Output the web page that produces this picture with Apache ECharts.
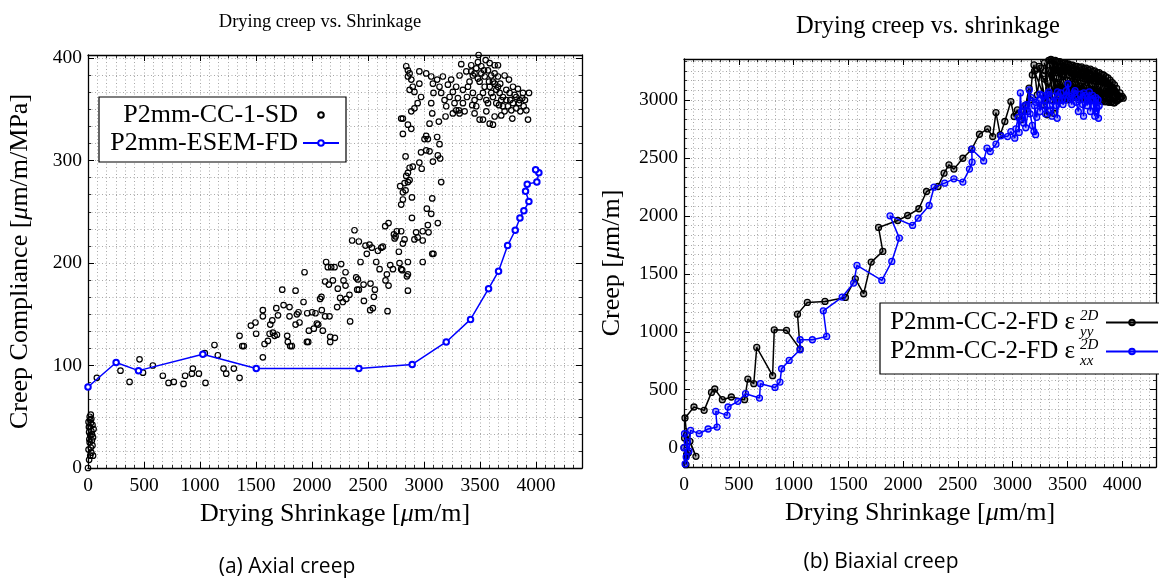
<!DOCTYPE html>
<html><head><meta charset="utf-8">
<script src="https://cdn.jsdelivr.net/npm/echarts@6/dist/echarts.min.js"></script>
<style>html,body{margin:0;padding:0;background:#fff}#c{width:1159px;height:579px}</style>
</head><body><div id="c"></div><script>
// ---------- data (left panel: axial creep) ----------
const sdPoints = [
[0,0],[10,8],[20,12],[30,15],[5,18],[25,20],[40,22],[15,25],[35,27],[45,30],[20,32],[10,35],[30,36],[50,38],[15,40],[40,42],[25,44],[5,45],[20,47],[30,48],[15,50],[25,52],[45,12],[8,40],[35,33],[12,28],
[79,88],[290,95],[371,84],[460,106],[491,93],[579,100],[668,90],[719,83],[766,84],[853,82],[867,90],[927,92],[936,97],[990,92],[1043,112],[1049,83],[1129,120],[1159,110],[1210,97],[1234,92],[1302,97],[1353,88],
[1353,129],[1377,119],[1391,119],[1454,139],[1495,142],[1501,131],[1561,154],[1561,148],[1561,108],[1576,121],[1606,124],[1621,131],[1627,140],[1645,144],[1651,132],[1666,129],[1687,130],[1696,149],[1681,156],[1734,174],[1746,159],[1778,129],[1784,123],[1799,157],[1799,148],[1805,119],[1820,119],[1853,173],[1853,140],[1865,150],[1879,152],[1888,142],[1924,162],[1933,191],[1954,123],[1966,123],[1972,134],[1957,151],[2001,152],[2016,136],[2031,151],[2043,141],[2055,140],[2072,165],[2084,167],[2087,154],[2096,134],[2117,182],[2117,148],[2126,201],[2141,196],[2150,179],[2156,148],[2162,128],[2162,123],[2171,196],[2186,183],[2204,127],[2201,196],[2230,175],[2224,157],[2260,199],[2251,166],[2275,162],[2281,183],[2299,191],[2299,178],[2305,165],[2334,169],[2340,143],[2358,222],[2379,232],[2394,186],[2403,174],[2409,184],[2418,221],[2418,174],[2433,201],[2460,179],[2463,163],[2477,217],[2489,209],[2513,218],[2522,180],[2519,154],[2534,215],[2543,156],[2552,167],[2561,174],[2573,201],[2588,212],[2603,194],[2618,215],[2632,216],[2653,236],[2656,183],[2668,189],[2674,153],[2683,239],[2683,178],[2698,198],[2722,194],[2731,228],[2737,224],[2746,226],[2757,231],[2775,211],[2781,200],[2787,275],[2796,231],[2796,194],[2805,193],[2811,219],[2826,223],[2811,262],[2796,257],[2811,269],[2835,271],[2826,278],[2841,285],[2856,288],[2856,279],[2871,281],[2871,293],[2835,304],[2811,326],[2796,341],[2811,341],[2856,335],[2886,331],[2856,189],[2856,201],[2847,187],[2856,173],[2892,264],[2892,244],[2899,294],[2914,223],[2929,230],[2943,225],[2958,298],[2973,308],[2979,292],[2988,231],[2988,222],[2988,201],[3004,321],[3019,310],[3019,324],[3025,253],[3034,237],[3034,321],[3040,230],[3049,309],[3049,336],[3064,248],[3073,209],[3073,263],[3079,299],[3084,209],[3117,323],[3123,239],[3123,305],[3138,316],[3132,338],[3153,279],[3144,302],
[2841,392],[2856,388],[2871,385],[2856,382],[2886,379],[2899,372],[2871,369],[2914,367],[2958,387],[2958,375],[2973,362],[2943,356],[2914,351],[2886,348],[3019,385],[3064,382],[3079,375],[3084,366],[3064,356],[3073,346],[3117,379],[3138,372],[3153,366],[3168,382],[3183,359],[3198,353],[3192,343],[3213,374],[3228,362],[3242,379],[3257,367],[3272,356],[3287,372],[3302,361],[3311,349],[3317,383],[3332,394],[3347,369],[3362,348],[3377,387],[3383,362],[3406,377],[3421,393],[3430,354],[3436,383],[3451,346],[3466,390],[3481,396],[3487,403],[3496,377],[3511,385],[3526,366],[3535,388],[3541,372],[3550,398],[3556,348],[3571,356],[3580,377],[3586,336],[3600,383],[3615,362],[3630,343],[3630,393],[3645,369],[3660,382],[3669,354],[3680,375],[3689,344],[3704,362],[3719,383],[3734,369],[3749,353],[3758,379],[3770,359],[3788,341],[3794,372],[3809,364],[3823,351],[3838,370],[3847,356],[3859,348],[3877,361],[3889,353],[3901,359],[3913,349],[3928,340],[3937,366],
[3421,387],[3451,385],[3481,380],[3511,392],[3541,382],[3571,388],[3586,372],[3615,377],[3645,356],[3675,366],[3704,353],[3734,359],[3764,366],[3794,356],[3823,362],[3853,359],[3883,366],[3779,349],[3719,348],[3689,359],[3660,372],[3630,375],[3600,366],[3556,359],[3496,362],[3466,353],[3436,366],[3392,372],[3347,356],[3317,346],[3287,349],[3257,346],[3526,340],[3615,335],[3496,340],[3451,359],[3586,395],[3630,385],[3660,393]
];
const esemPoints = [[0,79],[251,103],[451,95],[1025,111],[1502,97],[2418,97],[2894,101],[3198,123],[3415,145],[3576,175],[3665,192],[3746,217],[3814,232],[3856,244],[3891,251],[3936,260],[3906,270],[3921,277],[4007,279],[4025,288],[3996,291]];

// ---------- data (right panel: biaxial creep) ----------
const yyPoints = [[0,0],[24,-60],[18,-147],[39,-46],[5,83],[54,55],[109,-75],[24,112],[9,256],[91,351],[184,322],[251,477],[281,506],[350,414],[432,437],[553,414],[583,592],[637,552],[664,865],[809,621],[824,1017],[936,1012],[1060,851],[1036,1152],[1126,1253],[1287,1262],[1474,1296],[1564,1457],[1640,1328],[1709,1601],[1815,1693],[1776,1900],[1951,1960],[2042,2003],[2144,2061],[2214,2210],[2319,2253],[2374,2368],[2419,2440],[2464,2403],[2546,2497],[2627,2575],[2697,2704],[2772,2750],[2818,2684],[2848,2891],[2887,2699],[2929,2814],[2984,2986],
[3014,2857],[3044,2914],[3074,2828],[3100,2900],[3120,2957],[3150,3101],[3160,3000],[3180,3216],[3195,3302],[3225,3044],[3256,3274],[3286,2957],[3316,2871],[3300,3250],[3331,3360],[3376,2885],[3340,3300],[3420,2990],[3350,3350],[3460,3010],[3390,3340],[3500,3000],[3430,3330],[3540,3020],[3470,3320],[3580,3030],[3510,3310],[3620,3020],[3550,3300],[3660,3010],[3590,3290],[3700,3000],[3630,3285],[3740,3000],[3670,3275],[3780,2995],[3710,3265],[3820,2990],[3750,3250],[3860,2985],[3790,3235],[3900,2980],[3830,3215],[3930,2975],[3870,3190],[3960,3000],[3910,3150],[3990,3020],[3950,3100],[4010,3015],[3980,3060],[3940,3040],[3880,3080],[3840,3060],[3780,3120],[3730,3090],[3680,3150],[3620,3120],[3570,3180],[3520,3140],[3460,3200],[3410,3150],[3360,3220],[3330,3100],[3290,3180],[3380,3260],[3440,3240],[3500,3250],[3560,3230],[3620,3220],[3680,3200],[3740,3180],[3800,3160],[3860,3120],
[3200,3250],[3300,2990],[3240,3290],[3350,3000],[3290,3320],[3400,3000],[3330,3340],[3440,3000],[3370,3340],[3480,3010],[3410,3330],[3520,3010],[3450,3320],[3560,3020],[3490,3310],[3600,3020],[3530,3300],[3640,3010],[3570,3290],[3680,3005],[3610,3280],[3720,3000],[3650,3270],[3760,2995],[3690,3260],[3800,2990],[3730,3250],[3840,2985],[3770,3235],[3880,2980],[3810,3220],[3920,2975],[3850,3200],[3950,2990],[3890,3170],[3980,3010],[3930,3130],[4000,3030]];
const xxPoints = [[0,0],[20,-80],[10,-140],[30,50],[5,120],[45,-30],[60,149],[139,121],[220,161],[302,178],[290,313],[393,279],[402,351],[492,400],[562,466],[689,428],[698,552],[831,520],[876,566],[891,681],[960,753],[1060,845],[1060,931],[1172,931],[1302,960],[1272,1181],[1444,1299],[1549,1420],[1579,1572],[1806,1443],[1897,1607],[1966,1808],[1881,2000],[2087,1917],[2138,1980],[2238,2089],[2283,2247],[2380,2282],[2464,2319],[2546,2291],[2606,2403],[2630,2463],[2627,2575],[2736,2474],[2766,2584],[2796,2555],[2848,2618],[2893,2690],[2954,2684],[2984,2727],[3020,2670],[3030,2750],[3050,2850],[3060,2720],[3071,3060],[3080,2900],[3100,2800],[3110,2950],[3120,2760],[3140,2900],[3152,3086],[3160,2880],[3180,2780],[3195,2727],[3210,2700],[3200,2950],[3220,2850],[3240,3000],[3250,2900],[3270,3040],[3290,2950],[3300,2880],[3320,3050],[3340,2950],[3346,2914],[3360,2860],[3380,3030],[3400,2950],[3407,2842],[3420,2990],[3440,3060],[3460,2960],[3480,3000],[3505,3138],[3520,3030],[3540,2960],[3560,3060],[3580,2980],[3600,2900],[3620,3050],[3640,2960],[3648,2860],[3660,3040],[3680,2950],[3700,3070],[3710,2900],[3720,3000],[3740,2950],[3750,2860],[3760,3020],[3770,2930],[3784,2842],[3790,2950],[3780,3000],[3760,2900],[3730,3040],[3690,2990],[3650,3060],[3610,3000],[3570,3080],[3530,3010],[3490,3080],[3450,3000],[3410,3070],[3370,2990],[3330,3070],[3290,3000],[3250,3050],[3210,2980],[3170,3020],[3130,2960]];

// ---------- axis ranges / ticks ----------
const leftX = {min: 0, max: 4410, step: 500};
const leftY = {min: 0, max: 403, step: 100};
const rightX = {min: 0, max: 4309, step: 500};
const rightY = {min: -1000 / 6, max: 3353, step: 500};

const SERIF = 'Liberation Serif';
function isMult(v, s) { const r = v / s; return Math.abs(r - Math.round(r)) < 1e-6; }

const axLine = {show: true, onZero: false, lineStyle: {color: '#000', width: 1.3}};
const noLine = {show: false, onZero: false};
const majTick = {show: true, inside: true, length: 6, lineStyle: {color: '#000', width: 1}};
const minTick = {show: true, inside: true, length: 3, lineStyle: {color: '#000', width: 0.8}};
const gridLine = {show: true, lineStyle: {color: '#a8a8a8', width: 1, type: [1, 2.5]}};
const nameStyle = {fontFamily: SERIF, fontSize: 26, color: '#000',
  rich: {i: {fontFamily: SERIF, fontSize: 26, fontStyle: 'italic', color: '#000'}}};
const tickFont = {color: '#000', fontFamily: SERIF, fontSize: 19.5};

function xAxesFor(g, r, name) {
  const base = {gridIndex: g, type: 'value', min: r.min, max: r.max};
  return [
    Object.assign({}, base, {interval: r.step, position: 'bottom', axisLine: axLine, axisTick: majTick,
      axisLabel: Object.assign({show: true, margin: 8,
        formatter: v => isMult(v, r.step) ? String(Math.round(v)) : ''}, tickFont),
      splitLine: {show: false}, name: name, nameLocation: 'middle', nameGap: 33, nameTextStyle: nameStyle}),
    Object.assign({}, base, {interval: r.step, position: 'top', axisLine: axLine, axisTick: majTick,
      axisLabel: {show: false}, splitLine: {show: false}}),
    Object.assign({}, base, {interval: r.step / 6, position: 'bottom', axisLine: noLine, axisTick: minTick,
      axisLabel: {show: false}, splitLine: gridLine}),
    Object.assign({}, base, {interval: r.step / 6, position: 'top', axisLine: noLine, axisTick: minTick,
      axisLabel: {show: false}, splitLine: {show: false}})
  ];
}
function yAxesFor(g, r, name, gap, useInterval) {
  const base = {gridIndex: g, type: 'value', min: r.min, max: r.max};
  const maj = useInterval ? {interval: r.step} : {splitNumber: 7};
  return [
    Object.assign({}, base, maj, {position: 'left', axisLine: axLine, axisTick: majTick,
      axisLabel: Object.assign({show: true, margin: 6,
        formatter: v => isMult(v, r.step) ? String(Math.round(v)) : ''}, tickFont),
      splitLine: {show: false}, name: name, nameLocation: 'middle', nameGap: gap, nameTextStyle: nameStyle}),
    Object.assign({}, base, maj, {position: 'right', axisLine: axLine, axisTick: majTick,
      axisLabel: {show: false}, splitLine: {show: false}}),
    Object.assign({}, base, {interval: r.step / 6, position: 'left', axisLine: noLine, axisTick: minTick,
      axisLabel: {show: false}, splitLine: gridLine}),
    Object.assign({}, base, {interval: r.step / 6, position: 'right', axisLine: noLine, axisTick: minTick,
      axisLabel: {show: false}, splitLine: {show: false}})
  ];
}

const chart = echarts.init(document.getElementById('c'), null, {renderer: 'canvas'});
const option = {
  animation: false,
  backgroundColor: '#fff',
  textStyle: {fontFamily: SERIF},
  grid: [
    {left: 88, top: 55, width: 494, height: 413},
    {left: 684, top: 59, width: 476, height: 408}
  ],
  xAxis: [].concat(
    xAxesFor(0, leftX, 'Drying Shrinkage [{i|μ}m/m]'),
    xAxesFor(1, rightX, 'Drying Shrinkage [{i|μ}m/m]')
  ),
  yAxis: [].concat(
    yAxesFor(0, leftY, 'Creep Compliance [{i|μ}m/m/MPa]', 55, true),
    yAxesFor(1, rightY, 'Creep [{i|μ}m/m]', 59, false)
  ),
  legend: [
    {left: 99, top: 97, orient: 'vertical', align: 'right', data: ['P2mm-CC-1-SD', 'P2mm-ESEM-FD'],
      itemWidth: 36, itemHeight: 7, itemGap: 0, padding: [4, 6, 5, 9],
      borderColor: '#000', borderWidth: 1.2, backgroundColor: '#fff',
      textStyle: {fontFamily: SERIF, fontSize: 26, color: '#000', width: 190, lineHeight: 28}},
    {left: 880, top: 303, orient: 'vertical', align: 'right', data: ['P2mm-CC-2-FD yy', 'P2mm-CC-2-FD xx'],
      itemWidth: 52, itemHeight: 7, itemGap: 0, padding: [5, 6, 8, 9],
      borderColor: '#000', borderWidth: 1.2, backgroundColor: '#fff',
      formatter: () => 'P2mm-CC-2-FD ε{g|}',
      textStyle: {fontFamily: SERIF, fontSize: 25, color: '#000', width: 212, lineHeight: 29,
        rich: {g: {width: 26}}}}
  ],
  series: [
    {name: 'P2mm-CC-1-SD', type: 'line', xAxisIndex: 0, yAxisIndex: 0, data: sdPoints,
      symbol: 'circle', symbolSize: 5.5, showAllSymbol: true,
      lineStyle: {width: 0, opacity: 0},
      itemStyle: {color: 'rgba(255,255,255,0)', borderColor: '#000', borderWidth: 1.2}, z: 2},
    {name: 'P2mm-ESEM-FD', type: 'line', xAxisIndex: 0, yAxisIndex: 0, data: esemPoints,
      symbol: 'emptyCircle', symbolSize: 5.5, showAllSymbol: true,
      lineStyle: {width: 1.5, color: '#0000ff'},
      itemStyle: {color: '#0000ff', borderWidth: 1.3}, z: 3},
    {name: 'P2mm-CC-2-FD yy', type: 'line', xAxisIndex: 4, yAxisIndex: 4, data: yyPoints,
      symbol: 'circle', symbolSize: 6, showAllSymbol: true,
      lineStyle: {width: 1.5, color: '#000'},
      itemStyle: {color: 'rgba(0,0,0,0.3)', borderColor: '#000', borderWidth: 1.3}, z: 2},
    {name: 'P2mm-CC-2-FD xx', type: 'line', xAxisIndex: 4, yAxisIndex: 4, data: xxPoints,
      symbol: 'circle', symbolSize: 6, showAllSymbol: true,
      lineStyle: {width: 1.5, color: '#0000ff'},
      itemStyle: {color: 'rgba(0,0,255,0.3)', borderColor: '#0000ff', borderWidth: 1.3}, z: 3}
  ],
  graphic: [
    {type: 'text', x: 320, y: 22, z: 100, style: {text: 'Drying creep vs. Shrinkage', font: '18.5px "Liberation Serif"', fill: '#000', align: 'center', verticalAlign: 'middle'}},
    {type: 'text', x: 928, y: 27, z: 100, style: {text: 'Drying creep vs. shrinkage', font: '24.5px "Liberation Serif"', fill: '#000', align: 'center', verticalAlign: 'middle'}},
    {type: 'text', x: 287, y: 567, z: 100, style: {text: '(a) Axial creep', font: '21px "Open Sans"', fill: '#000', align: 'center', verticalAlign: 'middle'}},
    {type: 'text', x: 881, y: 562, z: 100, style: {text: '(b) Biaxial creep', font: '21px "Open Sans"', fill: '#000', align: 'center', verticalAlign: 'middle'}},
    {type: 'text', x: 1080, y: 316, z: 100, style: {text: '2D', font: 'italic 15px "Liberation Serif"', fill: '#000', align: 'left', verticalAlign: 'middle'}},
    {type: 'text', x: 1080, y: 332, z: 100, style: {text: 'yy', font: 'italic 15px "Liberation Serif"', fill: '#000', align: 'left', verticalAlign: 'middle'}},
    {type: 'text', x: 1080, y: 345, z: 100, style: {text: '2D', font: 'italic 15px "Liberation Serif"', fill: '#000', align: 'left', verticalAlign: 'middle'}},
    {type: 'text', x: 1080, y: 361, z: 100, style: {text: 'xx', font: 'italic 15px "Liberation Serif"', fill: '#000', align: 'left', verticalAlign: 'middle'}}
  ]
};
chart.setOption(option);
</script></body></html>
